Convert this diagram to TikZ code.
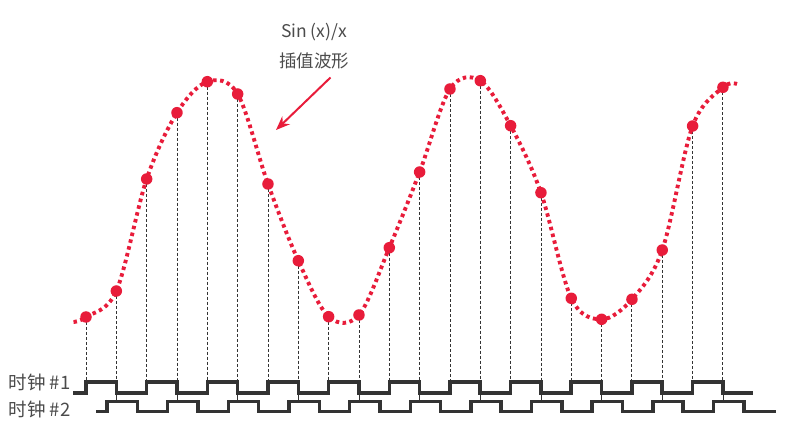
\documentclass[tikz,border=0pt]{standalone}
\usepackage{fontspec}
\newfontfamily\cjk{Noto Sans CJK SC}
\usetikzlibrary{arrows.meta}
\definecolor{sigred}{RGB}{232,28,58}
\definecolor{clk}{RGB}{51,51,51}
\definecolor{txt}{RGB}{75,75,75}
\tikzset{
  wave/.style={sigred, line width=3.9pt, dash pattern=on 3.5pt off 3.5pt},
  sampledot/.style={circle, fill=sigred, inner sep=0pt, minimum size=11.5pt},
  guide/.style={clk, line width=0.9pt, dash pattern=on 3pt off 2pt},
  clockline/.style={clk, line width=3.6pt, line join=miter},
  thinlink/.style={clk, line width=0.8pt},
  lbl/.style={text=txt, inner sep=0pt},
  pointer/.style={sigred, line width=2pt, -{Stealth[length=14pt,width=11pt]}}
}
\begin{document}
\begin{tikzpicture}[x=1pt,y=-1pt]
\useasboundingbox (0,0) rectangle (787,427);
% sample points
\foreach \yy [count=\i from 0] in {317,291,179,112.7,81.7,94,184,260.7,316.7,315,247.7,172,89,80.7,125.7,192.7,298.3,319.3,299.3,250,126,87.3} {
  \coordinate (s\i) at ({86+30.33*\i},\yy);
  \coordinate (c\i) at ({86+30.33*\i},382);
}
\coordinate (wstart) at (73.5,322);
\coordinate (wend) at (737,84);
% dashed guides
\foreach \i in {0,...,21} { \draw[guide] (s\i) -- (c\i); }
% interpolated waveform
\draw[wave] plot[smooth, tension=0.55] coordinates {(wstart) (s0) (s1) (s2) (s3) (s4) (s5) (s6) (s7) (s8) (s9) (s10) (s11) (s12) (s13) (s14) (s15) (s16) (s17) (s18) (s19) (s20) (s21) (wend)};
% sample dots
\foreach \i in {0,...,21} { \node[sampledot] (d\i) at (s\i) {}; }
% clock 1
\draw[clockline] (73,393)
  \foreach \i in {0,2,...,20} {
    -- ({86+30.33*\i},393) -- ({86+30.33*\i},382) -- ({86+30.33*(\i+1)},382) -- ({86+30.33*(\i+1)},393)
  } -- (753,393);
% thin links at falling edges of clock 1 to clock 2
\foreach \i in {1,3,...,21} {
  \coordinate (t\i) at ({86+30.33*\i},394);
  \coordinate (b\i) at ({86+30.33*\i},401);
  \draw[thinlink] (t\i) -- (b\i);
}
% clock 2
\draw[clockline] (96,411.5)
  \foreach \i in {0,2,...,20} {
    -- ({107+30.33*\i},411.5) -- ({107+30.33*\i},401.5) -- ({107+30.33*(\i+1)},401.5) -- ({107+30.33*(\i+1)},411.5)
  } -- (776,411.5);
% labels
\node[lbl, anchor=west, font=\cjk\fontsize{18.5}{22}\selectfont] (clk1) at (8.5,382) {时钟 \#1};
\node[lbl, anchor=west, font=\cjk\fontsize{18.5}{22}\selectfont] (clk2) at (8.5,409.5) {时钟 \#2};
\node[lbl, align=center, font=\cjk\fontsize{17.5}{30}\selectfont] (title) at (314,46) {Sin (x)/x\\插值波形};
\coordinate (ptail) at (330.5,77.5);
\coordinate (phead) at (276,130);
\draw[pointer] (ptail) -- (phead);
\end{tikzpicture}
\end{document}
